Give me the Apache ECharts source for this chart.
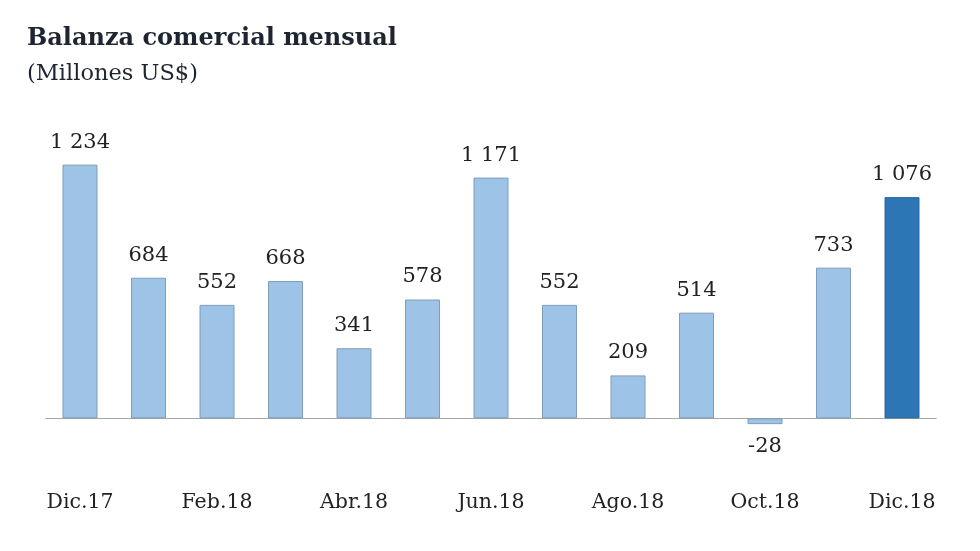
<!DOCTYPE html>
<html><head><meta charset="utf-8">
<script src="https://cdn.jsdelivr.net/npm/echarts@6/dist/echarts.min.js"></script>
<style>html,body{margin:0;padding:0;background:#fff}#c{width:980px;height:551px}</style>
</head><body><div id="c"></div>
<script>
const categories = ['Dic.17','Ene.18','Feb.18','Mar.18','Abr.18','May.18','Jun.18','Jul.18','Ago.18','Sep.18','Oct.18','Nov.18','Dic.18'];
const values = [1234, 684, 552, 668, 341, 578, 1171, 552, 209, 514, -28, 733, 1076];
const highlightIndex = 12;

const FONT = '"DejaVu Serif", "Liberation Serif", serif';
const fmt = v => { const s = Math.abs(v).toString().replace(/\B(?=(\d{3})+(?!\d))/g, ' '); return (v < 0 ? '-' : '') + s; };

const chart = echarts.init(document.getElementById('c'));
chart.setOption({
  animation: false,
  title: [
    { text: 'Balanza comercial mensual', left: 22, top: 22, textStyle: { fontFamily: FONT, fontWeight: 'bold', fontSize: 24, color: '#1f2530' } },
    { text: '(Millones US$)', left: 22, top: 58, textStyle: { fontFamily: FONT, fontWeight: 'normal', fontSize: 22.5, color: '#1f2530' } }
  ],
  grid: { left: 45.75, right: 980 - 936.25, top: 130.5, bottom: 91.5, containLabel: false },
  xAxis: {
    type: 'category', data: categories,
    axisLine: { show: true, onZero: true, lineStyle: { color: '#a6a6a6', width: 1 } },
    axisTick: { show: false },
    axisLabel: { interval: 1, fontFamily: FONT, fontSize: 20.5, color: '#222', margin: 33 }
  },
  yAxis: { type: 'value', min: -200, max: 1400, show: false, splitLine: { show: false } },
  series: [{
    type: 'bar', barWidth: 35,
    data: values.map((v, i) => ({
      value: v,
      itemStyle: i === highlightIndex ? { color: '#2e75b6', borderColor: '#2a6aa6', borderWidth: 1 } : { color: '#9dc3e6', borderColor: '#7f9db9', borderWidth: 1 },
      label: { position: v < 0 ? 'bottom' : 'top' }
    })),
    label: { show: true, fontFamily: FONT, fontSize: 21, color: '#222', distance: 12, formatter: p => fmt(p.value) }
  }]
});
</script></body></html>
